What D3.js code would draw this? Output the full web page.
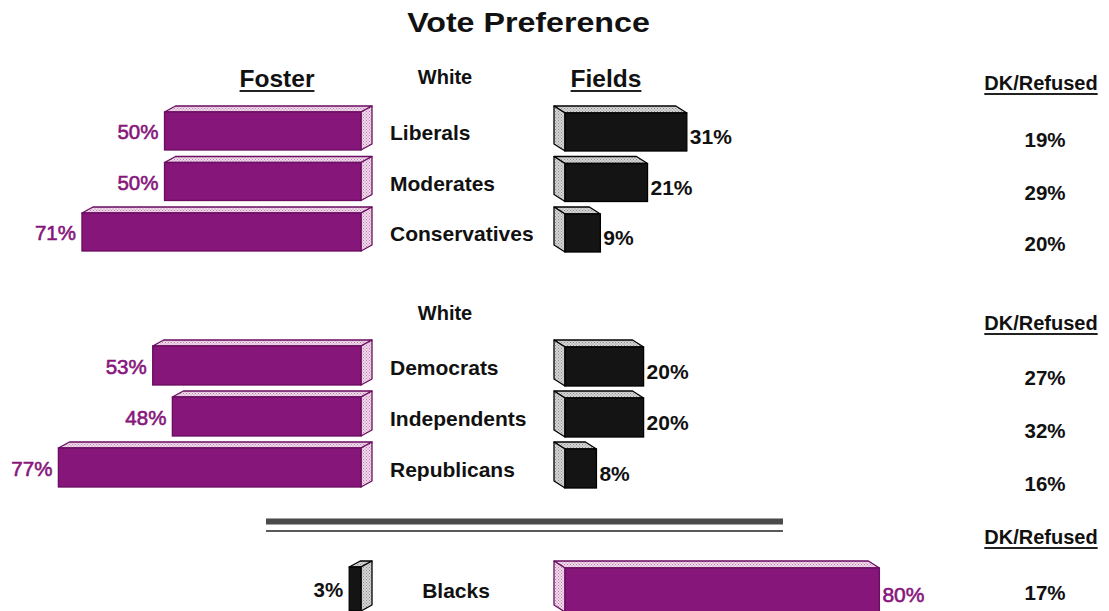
<!DOCTYPE html>
<html><head><meta charset="utf-8">
<script src="https://cdn.jsdelivr.net/npm/d3@7"></script>
<style>
html,body{margin:0;padding:0;background:#fff;}
svg{display:block;font-family:"Liberation Sans",Arial,Helvetica,sans-serif;}
</style></head>
<body>
<svg id="chart" width="1109" height="611"></svg>
<script>
// ---- data ----
const categories1 = ["Liberals", "Moderates", "Conservatives"];
const foster1 = [50, 50, 71];
const fields1 = [31, 21, 9];
const dk1 = [19, 29, 20];

const categories2 = ["Democrats", "Independents", "Republicans"];
const foster2 = [53, 48, 77];
const fields2 = [20, 20, 8];
const dk2 = [27, 32, 16];

const categories3 = ["Blacks"];
const foster3 = [3];
const fields3 = [80];
const dk3 = [17];

const groupHeaders = ["White", "White", null];
const columnHeaders = ["Foster", "Fields", "DK/Refused"];
const title = "Vote Preference";

// ---- layout ----
const svg = d3.select("#chart");
const x = d3.scaleLinear().domain([0, 100]).range([0, 393]);
const fosterRight = 361, fieldsLeft = 565;
const PURPLE = "#87167b", PURPLE_DARK = "#6a0d60";
const BLACK = "#141414";

const defs = svg.append("defs");
function dots(id, bg, dot) {
  const p = defs.append("pattern").attr("id", id).attr("width", 3).attr("height", 3).attr("patternUnits", "userSpaceOnUse");
  p.append("rect").attr("width", 3).attr("height", 3).attr("fill", bg);
  p.append("rect").attr("x", 0).attr("y", 0).attr("width", 1).attr("height", 1).attr("fill", dot);
  p.append("rect").attr("x", 1.5).attr("y", 1.5).attr("width", 1).attr("height", 1).attr("fill", dot);
}
dots("pinkDots", "#f1dcec", "#b77aa9");
dots("greyDots", "#d6d6d6", "#8a8a8a");

const groups = [
  {cats: categories1, foster: foster1, fields: fields1, dk: dk1, rowY: d3.scalePoint().domain(categories1).range([112, 213]),
   barH: 38, catX: 390, catAnchor: "start", headerY: 84, dkHeaderY: 90, dkY: [147, 200, 251], fosterColor: "purple", fieldsColor: "black"},
  {cats: categories2, foster: foster2, fields: fields2, dk: dk2, rowY: d3.scalePoint().domain(categories2).range([346, 448]),
   barH: 39, catX: 390, catAnchor: "start", headerY: 320, dkHeaderY: 330, dkY: [385, 438, 491], fosterColor: "purple", fieldsColor: "black"},
  {cats: categories3, foster: foster3, fields: fields3, dk: dk3, rowY: d3.scalePoint().domain(categories3).range([567, 567]),
   barH: 44, catX: 456, catAnchor: "middle", headerY: null, dkHeaderY: 544, dkY: [600], fosterColor: "black", fieldsColor: "purple"}
];

function styleFor(kind) {
  return kind === "purple"
    ? {front: PURPLE, light: "url(#pinkDots)", stroke: PURPLE_DARK, label: PURPLE}
    : {front: BLACK, light: "url(#greyDots)", stroke: "#000", label: "#111"};
}

// draw a 3D bar: front rect [x0,x1]x[y0,y1], depth offset (dx,dy)
function bar3d(g, x0, x1, y0, y1, dx, dy, st) {
  const pts = a => a.map(p => p.join(",")).join(" ");
  g.append("polygon").attr("points", pts([[x0, y0], [x0 + dx, y0 + dy], [x1 + dx, y0 + dy], [x1, y0]]))
    .attr("fill", st.light).attr("stroke", st.stroke).attr("stroke-width", 1.3).attr("stroke-linejoin", "round");
  const sx = dx > 0 ? x1 : x0;
  g.append("polygon").attr("points", pts([[sx, y0], [sx + dx, y0 + dy], [sx + dx, y1 + dy], [sx, y1]]))
    .attr("fill", st.light).attr("stroke", st.stroke).attr("stroke-width", 1.3).attr("stroke-linejoin", "round");
  g.append("rect").attr("x", x0).attr("y", y0).attr("width", x1 - x0).attr("height", y1 - y0)
    .attr("fill", st.front).attr("stroke", st.stroke).attr("stroke-width", 1.3);
}

// title
svg.append("text").attr("transform", `translate(528.5,32) scale(1.15,1)`).attr("text-anchor", "middle")
  .attr("font-size", 28).attr("font-weight", "bold").attr("fill", "#111").text(title);

function header(cx, y, s, size) {
  const t = svg.append("text").attr("x", cx).attr("y", y).attr("text-anchor", "middle")
    .attr("font-size", size).attr("font-weight", "bold").attr("fill", "#111").text(s);
  const w = t.node().getComputedTextLength();
  svg.append("line").attr("x1", cx - w / 2).attr("x2", cx + w / 2).attr("y1", y + 4).attr("y2", y + 4)
    .attr("stroke", "#222").attr("stroke-width", 2);
}
header(277, 87, columnHeaders[0], 24.5);
header(606, 87, columnHeaders[1], 24.5);

groups.forEach((G, gi) => {
  const g = svg.append("g");
  if (groupHeaders[gi]) {
    g.append("text").attr("x", 445).attr("y", G.headerY).attr("text-anchor", "middle")
      .attr("font-size", 20).attr("font-weight", "bold").attr("fill", "#111").text(groupHeaders[gi]);
  }
  header(1041, G.dkHeaderY, columnHeaders[2], 20);
  const fs = styleFor(G.fosterColor), ds = styleFor(G.fieldsColor);
  G.cats.forEach((c, i) => {
    const y0 = G.rowY(c), y1 = y0 + G.barH;
    const base = y0 + G.barH / 2 + 8;
    const fx0 = fosterRight - x(G.foster[i]);
    bar3d(g, fx0, fosterRight, y0, y1, 11, -6, fs);
    g.append("text").attr("x", fx0 - 6).attr("y", base).attr("text-anchor", "end")
      .attr("font-size", 20.5).attr("font-weight", G.fosterColor === "purple" ? "normal" : "bold")
      .attr("fill", fs.label).attr("stroke", G.fosterColor === "purple" ? fs.label : "none").attr("stroke-width", 0.6)
      .text(G.foster[i] + "%");
    const dx1 = fieldsLeft + x(G.fields[i]);
    bar3d(g, fieldsLeft, dx1, y0 + 1, y1 + 1, -11, -7, ds);
    g.append("text").attr("x", dx1 + 3).attr("y", base + 5).attr("text-anchor", "start")
      .attr("font-size", 21).attr("font-weight", G.fieldsColor === "purple" ? "normal" : "bold")
      .attr("fill", ds.label).attr("stroke", G.fieldsColor === "purple" ? ds.label : "none").attr("stroke-width", 0.6)
      .text(G.fields[i] + "%");
    g.append("text").attr("x", G.catX).attr("y", base + 1).attr("text-anchor", G.catAnchor)
      .attr("font-size", 21).attr("font-weight", "bold").attr("fill", "#111").text(c);
    g.append("text").attr("x", 1045).attr("y", G.dkY[i]).attr("text-anchor", "middle")
      .attr("font-size", 20.5).attr("font-weight", "bold").attr("fill", "#111").text(G.dk[i] + "%");
  });
});

// separator double line
svg.append("line").attr("x1", 266).attr("x2", 783).attr("y1", 521.5).attr("y2", 521.5)
  .attr("stroke", "#4a4a4a").attr("stroke-width", 6);
svg.append("line").attr("x1", 266).attr("x2", 783).attr("y1", 531).attr("y2", 531)
  .attr("stroke", "#222").attr("stroke-width", 1.5);
</script>
</body></html>
